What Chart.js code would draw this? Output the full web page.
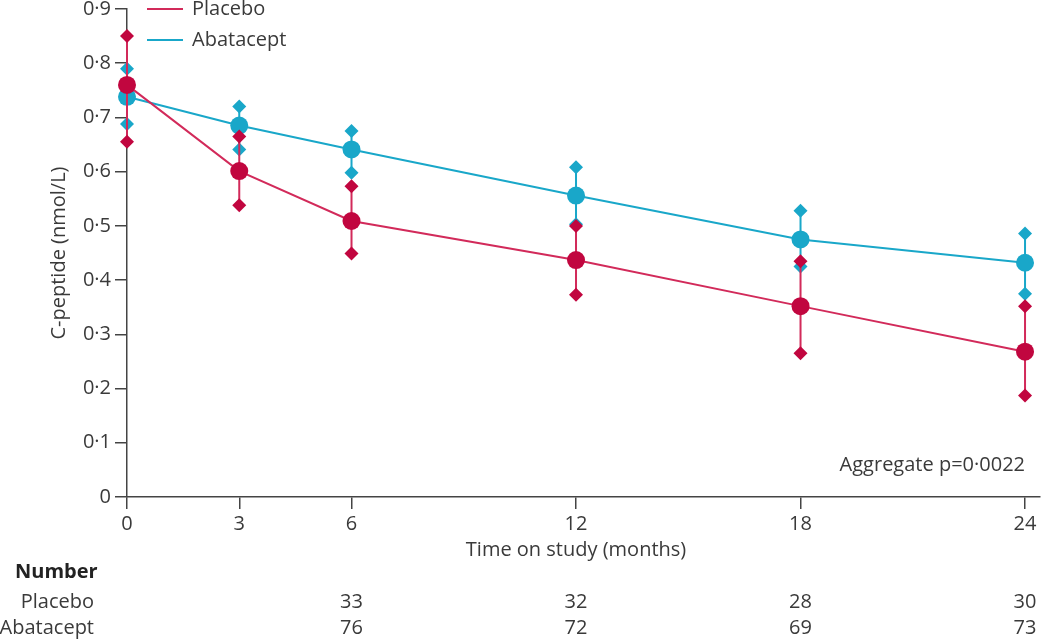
<!doctype html>
<html lang="en">
<head>
<meta charset="UTF-8" />
<title>C-peptide over time</title>
<style>
  html, body { margin: 0; padding: 0; background: #fff; }
  #wrap { width: 1050px; height: 643px; }
</style>
</head>
<body>
<div id="wrap"><canvas id="myChart" width="1050" height="643"></canvas></div>
<script src="https://cdn.jsdelivr.net/npm/chart.js"></script>
<script>
// time points (months)
const months = [0, 3, 6, 12, 18, 24];

// placebo: mean and upper/lower bounds
const placeboMean  = [0.760, 0.601, 0.509, 0.437, 0.352, 0.268];
const placeboUpper = [0.850, 0.665, 0.573, 0.500, 0.435, 0.352];
const placeboLower = [0.655, 0.538, 0.449, 0.373, 0.265, 0.187];

// abatacept: mean and upper/lower bounds
const abataMean  = [0.738, 0.685, 0.641, 0.556, 0.475, 0.432];
const abataUpper = [0.790, 0.720, 0.675, 0.608, 0.528, 0.486];
const abataLower = [0.688, 0.641, 0.598, 0.503, 0.425, 0.375];

// numbers at risk
const numberMonths = [6, 12, 18, 24];
const placeboN = [33, 32, 28, 30];
const abataN   = [76, 72, 69, 73];

const pText = 'Aggregate p=0\u00b70022';
const xTitle = 'Time on study (months)';

const RED = '#c1063f';
const RED_LINE = '#d22a5a';
const BLUE = '#19a7c9';
const TXT = '#3a3a3a';
const FONT = '"Open Sans", "Noto Sans", sans-serif';
const FS = 20;

function meanPts(vals) {
    return months.map((m, i) => ({x: m, y: vals[i]}));
}
function barPts(lo, hi) {
    // vertical segments, null between them so they don't join
    let out = [];
    months.forEach((m, i) => {
        out.push({x: m, y: lo[i]});
        out.push({x: m, y: hi[i]});
        out.push({x: m, y: null});
    });
    return out;
}

const extras = {
    id: 'extras',
    afterDraw(chart) {
        const c = chart.ctx;
        const xs = chart.scales.x;
        c.save();
        // legend
        c.lineWidth = 2;
        c.font = FS + 'px ' + FONT;
        c.textBaseline = 'middle';
        c.textAlign = 'left';
        [[RED_LINE, 'Placebo', 9], [BLUE, 'Abatacept', 40]].forEach(l => {
            c.strokeStyle = l[0];
            c.beginPath();
            c.moveTo(147, l[2]);
            c.lineTo(183, l[2]);
            c.stroke();
            c.fillStyle = TXT;
            c.fillText(l[1], 192, l[2]);
        });
        // p value
        c.textAlign = 'right';
        c.fillText(pText, 1025, 465);
        // x axis title, centred on the 0-24 span
        c.textAlign = 'center';
        c.fillText(xTitle, (xs.getPixelForValue(0) + xs.getPixelForValue(24)) / 2, 550);
        // number table
        c.textAlign = 'left';
        c.font = 'bold ' + FS + 'px ' + FONT;
        c.fillStyle = '#222';
        c.fillText('Number', 15, 572);
        c.font = FS + 'px ' + FONT;
        c.fillStyle = TXT;
        c.textAlign = 'right';
        c.fillText('Placebo', 94, 602);
        c.fillText('Abatacept', 94, 628);
        c.textAlign = 'center';
        numberMonths.forEach((m, i) => {
            const px = xs.getPixelForValue(m);
            c.fillText(String(placeboN[i]), px, 602);
            c.fillText(String(abataN[i]), px, 628);
        });
        c.restore();
    }
};

const ctx = document.getElementById('myChart');
const chart = new Chart(ctx, {
    type: 'line',
    data: {
        datasets: [
            {
                label: 'Placebo',
                data: meanPts(placeboMean),
                borderColor: RED_LINE,
                backgroundColor: RED,
                borderWidth: 2,
                pointRadius: 9,
                pointBorderWidth: 0,
                pointBackgroundColor: RED,
                tension: 0,
                clip: false,
                order: 1
            },
            {
                label: 'Placebo range',
                data: barPts(placeboLower, placeboUpper),
                borderColor: RED_LINE,
                borderWidth: 2,
                pointStyle: 'rectRot',
                pointRadius: 7,
                pointBorderWidth: 0,
                pointBackgroundColor: RED,
                spanGaps: false,
                clip: false,
                order: 2
            },
            {
                label: 'Abatacept',
                data: meanPts(abataMean),
                borderColor: BLUE,
                backgroundColor: BLUE,
                borderWidth: 2,
                pointRadius: 9,
                pointBorderWidth: 0,
                pointBackgroundColor: BLUE,
                tension: 0,
                clip: false,
                order: 3
            },
            {
                label: 'Abatacept range',
                data: barPts(abataLower, abataUpper),
                borderColor: BLUE,
                borderWidth: 2,
                pointStyle: 'rectRot',
                pointRadius: 7,
                pointBorderWidth: 0,
                pointBackgroundColor: BLUE,
                spanGaps: false,
                clip: false,
                order: 4
            }
        ]
    },
    options: {
        responsive: false,
        animation: false,
        layout: { padding: { left: 40, right: 10, top: 9, bottom: 0 } },
        plugins: {
            legend: { display: false },
            tooltip: { enabled: false }
        },
        scales: {
            x: {
                type: 'linear',
                min: 0,
                max: 24.4,
                afterBuildTicks: s => { s.ticks = months.map(v => ({value: v})); },
                afterFit: s => { s.height = 146; s.paddingLeft = 0; s.paddingRight = 0; },
                grid: { drawOnChartArea: false, drawTicks: true, tickLength: 12, color: '#444', lineWidth: 1.5 },
                border: { display: true, color: '#444', width: 1.5 },
                ticks: { color: TXT, font: { family: FONT, size: FS }, padding: 3, maxRotation: 0 }
            },
            y: {
                min: 0,
                max: 0.9,
                afterFit: s => { s.width = 87; s.paddingTop = 0; s.paddingBottom = 0; },
                grid: { drawOnChartArea: false, drawTicks: true, tickLength: 12, color: '#444', lineWidth: 1.5 },
                border: { display: true, color: '#444', width: 1.5 },
                ticks: {
                    stepSize: 0.1,
                    color: TXT,
                    font: { family: FONT, size: FS },
                    padding: 4,
                    callback: v => v === 0 ? '0' : v.toFixed(1).replace('.', '\u00b7')
                },
                title: { display: true, text: 'C-peptide (nmol/L)', color: TXT, font: { family: FONT, size: FS }, padding: 7 }
            }
        }
    },
    plugins: [extras]
});
</script>
</body>
</html>
